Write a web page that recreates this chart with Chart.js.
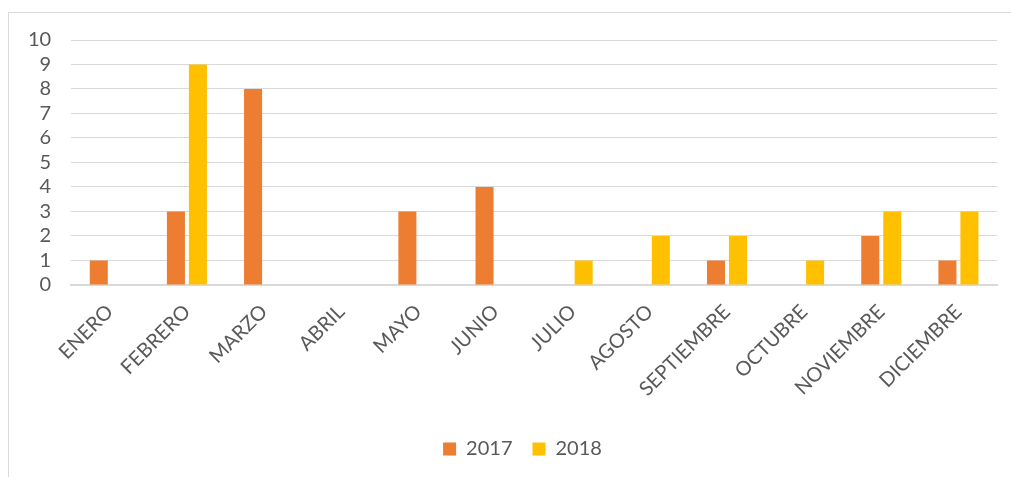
<!DOCTYPE html>
<html>
<head>
<meta charset="utf-8">
<script src="https://cdn.jsdelivr.net/npm/chart.js@4"></script>
<style>
html,body{margin:0;padding:0;background:#fff;}
#frame{position:absolute;left:8px;top:12px;width:1020px;height:480px;border:1px solid #d9d9d9;box-sizing:border-box;}
#wrap{position:absolute;left:0;top:0;width:1011px;height:477px;}
</style>
</head>
<body>
<div id="frame"></div>
<div id="wrap"><canvas id="c" width="1011" height="477"></canvas></div>
<script>
const categories = ["ENERO","FEBRERO","MARZO","ABRIL","MAYO","JUNIO","JULIO","AGOSTO","SEPTIEMBRE","OCTUBRE","NOVIEMBRE","DICIEMBRE"];
const values2017 = [1,3,8,0,3,4,0,0,1,0,2,1];
const values2018 = [0,9,0,0,0,0,1,2,2,1,3,3];
const seriesNames = ["2017","2018"];
const yTicks = [0,1,2,3,4,5,6,7,8,9,10];

const txt = "#595959";
const font = "Lato, 'Open Sans', sans-serif";

const shiftLegend = {
  id: "shiftLegend",
  afterLayout(chart) {
    const l = chart.legend;
    if (l) { l.left += 20; l.right += 20; }
  }
};

new Chart(document.getElementById("c"), {
  type: "bar",
  data: {
    labels: categories,
    datasets: [
      {label: seriesNames[0], data: values2017, backgroundColor: "#ED7D31", categoryPercentage: 0.57, barPercentage: 0.82},
      {label: seriesNames[1], data: values2018, backgroundColor: "#FFC000", categoryPercentage: 0.57, barPercentage: 0.82}
    ]
  },
  plugins: [shiftLegend],
  options: {
    responsive: false,
    animation: false,
    layout: {padding: {left: 8, right: 14, top: 40, bottom: 8}},
    plugins: {
      legend: {
        position: "bottom",
        labels: {boxWidth: 13, boxHeight: 13, color: txt, font: {family: font, size: 20}, padding: 20}
      },
      tooltip: {enabled: false}
    },
    scales: {
      x: {
        grid: {display: false, drawTicks: false},
        border: {color: "#d9d9d9", width: 2},
        ticks: {color: txt, font: {family: font, size: 20}, minRotation: 45, maxRotation: 45, padding: 15},
        afterFit: (s) => { s.paddingLeft = 0; s.paddingRight = 0; s.height += 3; }
      },
      y: {
        min: 0, max: 10,
        afterBuildTicks: (s) => { s.ticks = yTicks.map(v => ({value: v})); },
        grid: {color: "#d9d9d9", drawTicks: false},
        border: {display: false},
        ticks: {color: txt, font: {family: font, size: 20}, padding: 20, autoSkip: false}
      }
    }
  }
});
</script>
</body>
</html>
